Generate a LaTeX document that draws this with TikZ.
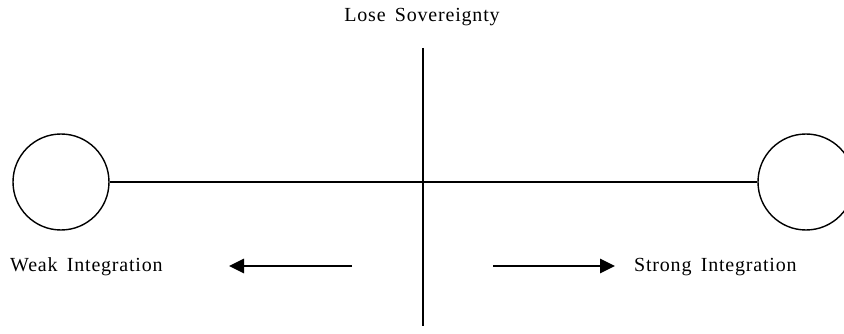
\documentclass[tikz,border=0pt]{standalone}
\usepackage{fontspec}
\setmainfont{Liberation Serif}[LetterSpace=4,WordSpace=1.6]
\usetikzlibrary{arrows.meta,positioning}
\tikzset{
  pole/.style={circle,draw=black,line width=1.4pt,minimum size=96pt,inner sep=0pt},
  eje/.style={black,line width=1.2pt},
  flecha/.style={-{Triangle[length=15pt,width=14pt]},line width=2.8pt},
  lbl/.style={font=\fontsize{20}{22}\selectfont,inner sep=0pt}
}
\begin{document}
\begin{tikzpicture}[x=1pt,y=-1pt]
\useasboundingbox (0,0) rectangle (844,334);
\clip (0,0) rectangle (844,334);
\node[pole] (weak) at (61,182){}; \node[pole] (strong) at (806,182){};
\draw[eje] (weak) -- (strong);
\coordinate (top) at (423,48); \coordinate (bot) at (423,326);
\draw[eje] (top) -- (bot);
\node[lbl] (lose) at (422,17){Lose Sovereignty};
\node[lbl,anchor=west] (wlab) at (10,267){Weak Integration};
\node[lbl,anchor=west] (slab) at (634,267){Strong Integration};
\coordinate (l1) at (352,266); \coordinate (l2) at (229,266);
\coordinate (r1) at (493,266); \coordinate (r2) at (615,266);
\draw[flecha] (l1) -- (l2); \draw[flecha] (r1) -- (r2);
\end{tikzpicture}
\end{document}
